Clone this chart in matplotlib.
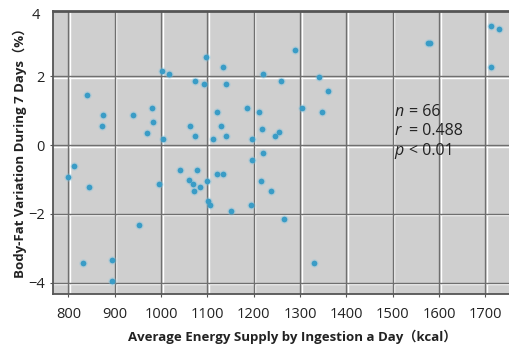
import matplotlib
matplotlib.use("Agg")
import matplotlib.pyplot as plt
import matplotlib.transforms as mtransforms

# Average daily energy supply (kcal) and 7-day body-fat variation (%)
energy_kcal = [
    799, 812, 839, 874, 872, 939, 981, 983, 970, 1004,
    1001, 1018, 1097, 1134, 1073, 1093, 1140, 1121, 1129, 1140,
    1111, 1063, 1073, 1185, 1211, 1197, 1197, 1041, 1078, 1121,
    1133, 1289, 1219, 1258, 1341, 1360, 1304, 1348, 1217, 1255,
    1246, 1219, 1575, 1580, 1712, 1730, 1713, 1216, 844, 894,
    831, 894, 952, 996, 1061, 1068, 1070, 1083, 1099, 1102,
    1106, 1150, 1193, 1237, 1266, 1329,
]
fat_change_pct = [
    -0.93, -0.62, 1.47, 0.87, 0.57, 0.87, 1.07, 0.67, 0.36, 0.17,
    2.17, 2.07, 2.57, 2.27, 1.87, 1.77, 1.77, 0.96, 0.57, 0.27,
    0.17, 0.57, 0.27, 1.07, 0.96, 0.17, -0.43, -0.73, -0.73, -0.83,
    -0.83, 2.78, 2.07, 1.87, 1.97, 1.57, 1.07, 0.97, 0.48, 0.37,
    0.27, -0.23, 2.97, 2.97, 3.47, 3.37, 2.27, -1.03, -1.22, -3.33,
    -3.43, -3.94, -2.33, -1.13, -1.02, -1.12, -1.33, -1.22, -1.03, -1.63,
    -1.73, -1.92, -1.73, -1.33, -2.14, -3.43,
]

x_ticks = [800, 900, 1000, 1100, 1200, 1300, 1400, 1500, 1600, 1700]
y_ticks = [-4, -2, 0, 2]
stats_symbols = ["n", "r", "p"]
stats_values = ["= 66", "= 0.488", "< 0.01"]

W, H = 510, 348
fig = plt.figure(figsize=(W / 100, H / 100), dpi=100)
ax_left, ax_top, ax_bottom = 52.7, 10.7, 294.0
ax = fig.add_axes([ax_left / W, 1 - ax_bottom / H, 1 - ax_left / W,
                   (ax_bottom - ax_top) / H])

ax.set_facecolor("#cfcfcf")
ax.set_xlim(766, 1753)
ax.set_ylim(-4.33, 3.91)

# embossed grid: dark line with a light line offset by ~1.5 px
dark = "#6f6f6f"
shift_r = mtransforms.ScaledTranslation(1.5 / 100, 0, fig.dpi_scale_trans)
shift_d = mtransforms.ScaledTranslation(0, -1.5 / 100, fig.dpi_scale_trans)
xt = ax.get_xaxis_transform()
yt = ax.get_yaxis_transform()
for xv in x_ticks:
    ax.plot([xv, xv], [0, 1], color="white", lw=1.0, zorder=0.5,
            transform=xt + shift_r)
    ax.plot([xv, xv], [0, 1], color=dark, lw=1.0, zorder=0.6, transform=xt)
for yv in y_ticks:
    ax.plot([0, 1], [yv, yv], color="white", lw=1.0, zorder=0.5,
            transform=yt + shift_d)
    ax.plot([0, 1], [yv, yv], color=dark, lw=1.0, zorder=0.6, transform=yt)

# scatter with soft halo
ax.scatter(energy_kcal, fat_change_pct, s=36, color="#7fc3e0", alpha=0.35,
           linewidths=0, zorder=2)
ax.scatter(energy_kcal, fat_change_pct, s=17, color="#3a9cc6",
           linewidths=0, zorder=3)

for side in ["left", "bottom", "top"]:
    ax.spines[side].set_color("#555555")
ax.spines["left"].set_linewidth(1.3)
ax.spines["bottom"].set_linewidth(1.3)
ax.spines["top"].set_linewidth(2.0)
ax.spines["right"].set_visible(False)

tick_font = ["Open Sans", "DejaVu Sans"]
ax.set_xticks(x_ticks)
ax.set_yticks(y_ticks)
ax.tick_params(axis="x", length=2.5, width=0.8, color="#555555", pad=6.5,
               labelsize=10.5, labelcolor="#222222")
ax.tick_params(axis="y", length=2.5, width=0.8, color="#555555", pad=3,
               labelsize=10.5, labelcolor="#222222")
for lab in ax.get_xticklabels() + ax.get_yticklabels():
    lab.set_family(tick_font)

# top tick label sits at the clipped upper edge
ax.text(-0.028, 3.78, "4", transform=yt,
        ha="right", va="center", fontsize=10.5, color="#222222",
        family=tick_font, clip_on=False)

label_font = ["Open Sans", "Noto Sans CJK JP", "DejaVu Sans"]
fig.text(292 / W, 1 - 337 / H, "Average Energy Supply by Ingestion a Day（kcal）",
         ha="center", va="center", fontsize=9.5, fontweight="bold",
         family=label_font, color="#222222")
fig.text(20 / W, 1 - 150 / H, "Body-Fat Variation During 7 Days（%）",
         ha="center", va="center", rotation=90, fontsize=9.5,
         fontweight="bold", family=label_font, color="#222222")

# correlation summary
for i, (sym, val) in enumerate(zip(stats_symbols, stats_values)):
    y = 0.96 - i * 0.56
    ax.text(1503, y, sym, fontsize=11.5, style="italic", family=tick_font,
            color="#222222", va="center", ha="left")
    ax.annotate(val, xy=(1503, y), xytext=(10.5, 0), textcoords="offset points",
                fontsize=11.5, family=tick_font, color="#222222",
                va="center", ha="left")

fig.savefig("out.png", dpi=100, facecolor="white")
